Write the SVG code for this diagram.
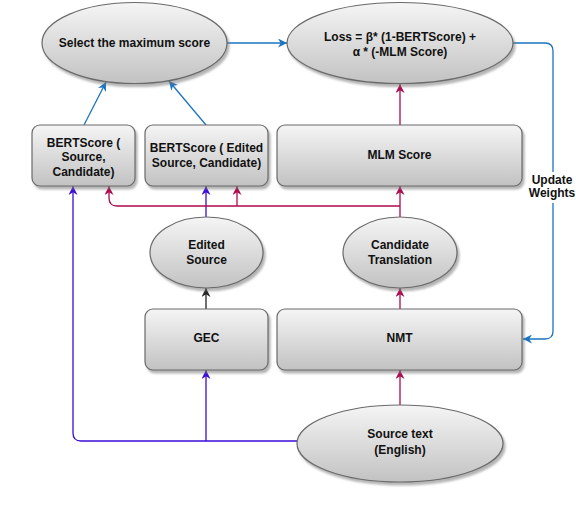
<svg xmlns="http://www.w3.org/2000/svg" width="576" height="520" viewBox="0 0 576 520">
<defs>
<linearGradient id="g" x1="0" y1="0" x2="0" y2="1">
<stop offset="0" stop-color="#f5f5f5"/>
<stop offset="1" stop-color="#c2c2c2"/>
</linearGradient>
<filter id="sh" x="-10%" y="-10%" width="125%" height="130%">
<feDropShadow dx="2" dy="3" stdDeviation="1.2" flood-color="#777" flood-opacity="0.55"/>
</filter>
<marker id="aB" viewBox="0 0 10 10" refX="10" refY="5" markerWidth="9" markerHeight="9" markerUnits="userSpaceOnUse" orient="auto">
<path d="M0,0 L10,5 L0,10 L3,5 z" fill="#1b74c0"/>
</marker>
<marker id="aP" viewBox="0 0 10 10" refX="10" refY="5" markerWidth="9" markerHeight="9" markerUnits="userSpaceOnUse" orient="auto">
<path d="M0,0 L10,5 L0,10 L3,5 z" fill="#3a0cd8"/>
</marker>
<marker id="aR" viewBox="0 0 10 10" refX="10" refY="5" markerWidth="9" markerHeight="9" markerUnits="userSpaceOnUse" orient="auto">
<path d="M0,0 L10,5 L0,10 L3,5 z" fill="#ad0a4c"/>
</marker>
<marker id="aK" viewBox="0 0 10 10" refX="10" refY="5" markerWidth="9" markerHeight="9" markerUnits="userSpaceOnUse" orient="auto">
<path d="M0,0 L10,5 L0,10 L3,5 z" fill="#222"/>
</marker>
</defs>
<style>
.n{fill:url(#g);stroke:#6a6a6a;stroke-width:1.2;filter:url(#sh)}
.t{font-family:"Liberation Sans",Arial,sans-serif;font-weight:bold;font-size:12px;fill:#111;text-anchor:middle}
.c{fill:none;stroke-width:1.3}
.b{stroke:#1b74c0}
.p{stroke:#3a0cd8}
.r{stroke:#ad0a4c}
.k{stroke:#222}
</style>
<rect width="576" height="520" fill="#fff"/>

<g id="connectors">
<path class="c b" d="M227,43 H287" marker-end="url(#aB)"/>
<path class="c b" d="M84,125 L106,82" marker-end="url(#aB)"/>
<path class="c b" d="M206,125 L169,81" marker-end="url(#aB)"/>
<path class="c b" d="M513,43 H545 Q553,43 553,51 V172"/>
<path class="c b" d="M553,203 V331 Q553,339 545,339 H523" marker-end="url(#aB)"/>
<path class="c r" d="M400,125 V84" marker-end="url(#aR)"/>
<path class="c p" d="M206,217 V186" marker-end="url(#aP)"/>
<path class="c r" d="M400,217 V186" marker-end="url(#aR)"/>
<path class="c r" d="M400,206 H117 Q109,206 109,198 V186" marker-end="url(#aR)"/>
<path class="c r" d="M237,206 V186" marker-end="url(#aR)"/>
<path class="c k" d="M206,309 V288" marker-end="url(#aK)"/>
<path class="c r" d="M400,309 V288" marker-end="url(#aR)"/>
<path class="c r" d="M400,405 V370" marker-end="url(#aR)"/>
<path class="c p" d="M297,441 H81 Q73,441 73,433 V186" marker-end="url(#aP)"/>
<path class="c p" d="M206,441 V370" marker-end="url(#aP)"/>
<text class="t" x="552" y="184">Update</text>
<text class="t" x="552" y="197">Weights</text>
</g>

<g id="select-max">
<ellipse class="n" cx="134.5" cy="43" rx="92.5" ry="40.5"/>
<text class="t" x="134.5" y="47">Select the maximum score</text>
</g>

<g id="loss">
<ellipse class="n" cx="400" cy="43" rx="113" ry="40.5"/>
<text class="t" x="400" y="41">Loss = β* (1-BERTScore) +</text>
<text class="t" x="400" y="56">α * (-MLM Score)</text>
</g>

<g id="bertscore-source">
<rect class="n" x="32" y="125" width="103" height="61" rx="8"/>
<text class="t" x="83.5" y="146.5">BERTScore (</text>
<text class="t" x="83.5" y="161">Source,</text>
<text class="t" x="83.5" y="175.5">Candidate)</text>
</g>

<g id="bertscore-edited">
<rect class="n" x="145" y="125" width="123" height="61" rx="8"/>
<text class="t" x="206.5" y="152">BERTScore ( Edited</text>
<text class="t" x="206.5" y="167">Source, Candidate)</text>
</g>

<g id="mlm-score">
<rect class="n" x="277" y="125" width="245" height="61" rx="8"/>
<text class="t" x="399.5" y="159">MLM Score</text>
</g>

<g id="edited-source">
<ellipse class="n" cx="206.5" cy="252.5" rx="56.5" ry="35.5"/>
<text class="t" x="206.5" y="249">Edited</text>
<text class="t" x="206.5" y="264">Source</text>
</g>

<g id="candidate-translation">
<ellipse class="n" cx="400" cy="252.5" rx="57" ry="35.5"/>
<text class="t" x="400" y="249">Candidate</text>
<text class="t" x="400" y="264">Translation</text>
</g>

<g id="gec">
<rect class="n" x="145" y="309" width="123" height="61" rx="8"/>
<text class="t" x="206.5" y="342">GEC</text>
</g>

<g id="nmt">
<rect class="n" x="277" y="309" width="245" height="61" rx="8"/>
<text class="t" x="399.5" y="342">NMT</text>
</g>

<g id="source-text">
<ellipse class="n" cx="400" cy="443.5" rx="103" ry="38.5"/>
<text class="t" x="400" y="438">Source text</text>
<text class="t" x="400" y="454">(English)</text>
</g>
</svg>
